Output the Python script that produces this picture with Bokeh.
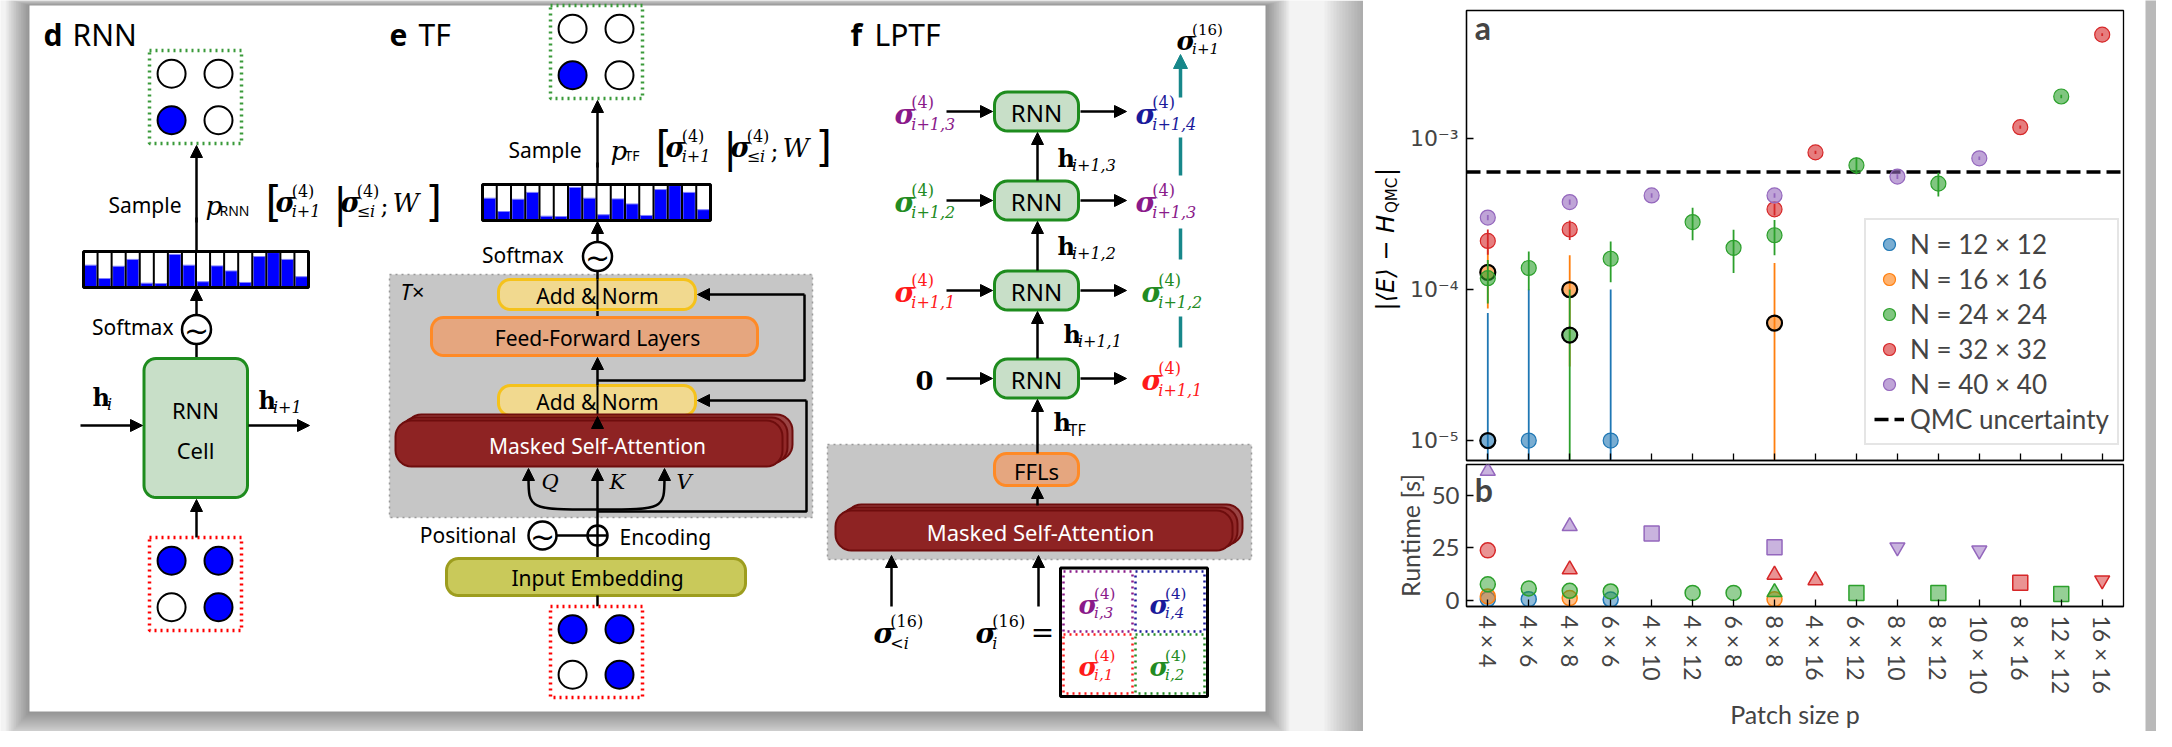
import math
from bokeh.plotting import figure
from bokeh.layouts import row, column
from bokeh.models import (Range1d, FixedTicker, Label, Legend, LegendItem,
                          Arrow, NormalHead, ColumnDataSource, CustomJSTickFormatter)
from bokeh.core.properties import value
from bokeh.embed import file_html
from bokeh.resources import INLINE

# ------------------------------------------------------------------ data
patch_sizes = ["4 × 4", "4 × 6", "4 × 8", "6 × 6", "4 × 10", "4 × 12", "6 × 8", "8 × 8",
               "4 × 16", "6 × 12", "8 × 10", "8 × 12", "10 × 10", "8 × 16", "12 × 12", "16 × 16"]
series_names = ["N = 12 × 12", "N = 16 × 16", "N = 24 × 24", "N = 32 × 32", "N = 40 × 40"]
series_colors = ["#1f77b4", "#ff7f0e", "#2ca02c", "#d62728", "#9467bd"]
qmc_uncertainty = 6.0e-4

# N = 12 x 12
n12_idx = [0, 1, 3]
n12_err = [1.0e-5, 1.0e-5, 1.0e-5]
n12_unc = [6.0e-5, 9.0e-5, 9.0e-5]
n12_neg = [True, False, False]
n12_run = [0.5, 0.5, 0.3]
n12_mrk = ["circle", "circle", "circle"]
# N = 16 x 16
n16_idx = [0, 2, 7]
n16_err = [1.3e-4, 1.0e-4, 6.0e-5]
n16_unc = [5.5e-5, 6.9e-5, 9.0e-5]
n16_neg = [True, True, True]
n16_run = [1.8, 1.0, 0.5]
n16_mrk = ["circle", "circle", "circle"]
# N = 24 x 24
n24_idx = [0, 1, 2, 3, 5, 6, 7, 9, 11, 14]
n24_err = [1.19e-4, 1.39e-4, 5.0e-5, 1.6e-4, 2.8e-4, 1.89e-4, 2.29e-4, 6.65e-4, 5.03e-4, 1.9e-3]
n24_unc = [3.8e-5, 4.0e-5, 5.0e-5, 4.8e-5, 6.8e-5, 6.0e-5, 6.0e-5, 8.5e-5, 9.0e-5, 5.0e-5]
n24_neg = [False, False, True, False, False, False, False, False, False, False]
n24_run = [7.6, 5.6, 4.5, 4.2, 3.5, 3.5, 3.8, 3.5, 3.5, 3.0]
n24_mrk = ["circle", "circle", "circle", "circle", "circle", "circle", "triangle", "square", "square", "square"]
# N = 32 x 32
n32_idx = [0, 2, 7, 8, 13, 15]
n32_err = [2.1e-4, 2.5e-4, 3.4e-4, 8.1e-4, 1.19e-3, 4.88e-3]
n32_unc = [4.0e-5, 3.7e-5, 3.0e-5, 2.0e-5, 3.0e-5, 1.0e-4]
n32_neg = [False, False, False, False, False, False]
n32_run = [23.8, 14.7, 12.1, 9.5, 8.3, 9.5]
n32_mrk = ["circle", "triangle", "triangle", "triangle", "square", "inverted_triangle"]
# N = 40 x 40
n40_idx = [0, 2, 4, 7, 10, 12]
n40_err = [3.0e-4, 3.8e-4, 4.2e-4, 4.2e-4, 5.6e-4, 7.4e-4]
n40_unc = [1.2e-5, 1.5e-5, 1.5e-5, 1.5e-5, 2.0e-5, 2.0e-5]
n40_neg = [False, False, False, False, False, False]
n40_run = [61.7, 35.3, 31.8, 25.3, 25.3, 23.8]
n40_mrk = ["triangle", "triangle", "square", "square", "inverted_triangle", "inverted_triangle"]

# illustrative output-distribution histogram in the schematic
hist_probs = [0.62, 0.25, 0.59, 0.78, 0.12, 0.11, 0.92, 0.62, 0.16, 0.60, 0.46, 0.14, 0.86, 0.97, 0.78, 0.30]

series = [
    (n12_idx, n12_err, n12_unc, n12_neg, n12_run, n12_mrk),
    (n16_idx, n16_err, n16_unc, n16_neg, n16_run, n16_mrk),
    (n24_idx, n24_err, n24_unc, n24_neg, n24_run, n24_mrk),
    (n32_idx, n32_err, n32_unc, n32_neg, n32_run, n32_mrk),
    (n40_idx, n40_err, n40_unc, n40_neg, n40_run, n40_mrk),
]

SANS = "Noto Sans"
SERIF = "DejaVu Serif"
CH = "Lato"

# ------------------------------------------------------------------ schematic
d = figure(width=1363, height=731, x_range=Range1d(8, 1371), y_range=Range1d(739, 8),
           output_backend="svg", toolbar_location=None, min_border=0,
           x_axis_location=None, y_axis_location=None, outline_line_color=None,
           background_fill_color="#f3f3f3", border_fill_color="#f3f3f3")
d.grid.visible = False


def T(p, x, y, s, size, color="black", align="center", font=SANS, style="normal", baseline="middle", angle=0.0):
    p.text(x=[x], y=[y], text=[s], text_font=value(font), text_font_size=f"{size}px",
           text_color=color, text_align=align, text_baseline=baseline, text_font_style=style,
           angle=angle)


def arrow(p, x0, y0, x1, y1, color="black", lw=2.5, head=12):
    p.add_layout(Arrow(end=NormalHead(size=head, fill_color=color, line_color=color),
                       x_start=x0, y_start=y0, x_end=x1, y_end=y1,
                       line_color=color, line_width=lw))


def rrect(p, l, r, t, b, rad, fill, line, lw=2.5, fill_alpha=1.0, line_alpha=1.0):
    xs, ys = [], []
    corners = [(r - rad, t + rad, -90, 0), (r - rad, b - rad, 0, 90),
               (l + rad, b - rad, 90, 180), (l + rad, t + rad, 180, 270)]
    for cx, cy, a0, a1 in corners:
        for k in range(9):
            a = math.radians(a0 + (a1 - a0) * k / 8)
            xs.append(cx + rad * math.cos(a))
            ys.append(cy + rad * math.sin(a))
    p.patch(xs, ys, fill_color=fill, fill_alpha=fill_alpha, line_color=line,
            line_width=lw, line_alpha=line_alpha)


def sig(p, x, y, sup, sub, color="black", fs=28):
    T(p, x, y, "σ", fs, color, align="left", font=SERIF, style="bold italic")
    T(p, x + 0.6 * fs, y - 0.42 * fs, sup, int(fs * 0.6), color, align="left", font=SERIF)
    T(p, x + 0.6 * fs, y + 0.34 * fs, sub, int(fs * 0.6), color, align="left", font=SERIF, style="italic")


def hvec(p, x, y, sub, fs=24):
    T(p, x, y, "h", fs, align="left", font=SERIF, style="bold")
    T(p, x + 0.6 * fs, y + 0.3 * fs, sub, int(fs * 0.68), align="left", font=SERIF, style="italic")


def hist(p, l, r, t, b):
    n = len(hist_probs)
    w = (r - l) / n
    lefts = [l + i * w for i in range(n)]
    p.quad(left=l, right=r, top=t, bottom=b, fill_color="white", line_color=None)
    p.quad(left=[x + 1 for x in lefts], right=[x + w - 1 for x in lefts],
           top=[b - f * (b - t) for f in hist_probs], bottom=b,
           fill_color="#0000ff", line_color="#8080ff", line_width=1)
    p.segment(x0=lefts[1:], y0=t, x1=lefts[1:], y1=b, line_color="black", line_width=2)
    p.quad(left=l, right=r, top=t, bottom=b, fill_color=None, line_color="black", line_width=3)


def grid4(p, l, r, t, b, filled, color):
    p.quad(left=l, right=r, top=t, bottom=b, fill_color="white", line_color=color,
           line_width=3.5, line_dash="dotted")
    xs = [l + 0.24 * (r - l), l + 0.75 * (r - l)]
    ys = [t + 0.25 * (b - t), t + 0.75 * (b - t)]
    cx, cy, fc = [], [], []
    for j, yy in enumerate(ys):
        for i, xx in enumerate(xs):
            cx.append(xx); cy.append(yy)
            fc.append("#0000ff" if filled[j][i] else "white")
    p.circle(x=cx, y=cy, radius=14, fill_color=fc, line_color="black", line_width=2)


def wave(p, x, y, r=14.5):
    p.circle(x=[x], y=[y], radius=r, fill_color="white", line_color="black", line_width=2.5)
    T(p, x, y + 1, "~", 30, font="DejaVu Sans")


def formula(p, x, y, sub, bx):
    T(p, x, y + 3, "p", 26, align="left", font=SERIF, style="italic")
    T(p, x + 14, y + 8, sub, 14, align="left", font=SANS)
    T(p, bx, y, "[", 42, align="left", font="DejaVu Sans")
    sig(p, bx + 10, y, "(4)", "i+1", fs=27)
    T(p, bx + 68, y, "|", 40, align="left", font="DejaVu Sans")
    sig(p, bx + 75, y, "(4)", "≤i", fs=27)
    T(p, bx + 115, y + 3, ";", 24, align="left", font=SERIF)
    T(p, bx + 127, y, "W", 26, align="left", font=SERIF, style="italic")
    T(p, bx + 160, y, "]", 42, align="left", font="DejaVu Sans")


# shadows and panel background
for k in range(1, 15):
    d.quad(left=37 - 1.7 * k, right=1273 + 1.7 * k, top=13 - 0.5 * k, bottom=719 + 2.0 * k,
           fill_color="black", fill_alpha=0.03, line_color=None)
for k in range(1, 14):
    d.quad(left=1371 - 3 * k, right=1371, top=8, bottom=739, fill_color="black",
           fill_alpha=0.025, line_color=None)
d.quad(left=37, right=1273, top=13, bottom=719, fill_color="white", line_color=None)

# ---- d RNN
T(d, 51, 42, "d", 30, align="left", style="bold")
T(d, 80, 42, "RNN", 30, align="left")
d.segment(x0=[204], y0=[258], x1=[204], y1=[225], line_color="black", line_width=2.5)
arrow(d, 204, 230, 204, 153)
grid4(d, 157, 249, 58, 151, [[False, False], [True, False]], "#3a9a3a")
T(d, 189, 212, "Sample", 21, align="right")
formula(d, 213, 210, "RNN", 273)
hist(d, 91, 316, 259, 295)
arrow(d, 204, 322, 204, 296)
wave(d, 204, 337)
T(d, 181, 334, "Softmax", 21, align="right")
d.segment(x0=[204], y0=[366], x1=[204], y1=[351], line_color="black", line_width=2.5)
rrect(d, 151.5, 255, 366, 505, 12, "#c8dfc8", "#1e8c1e", lw=3)
T(d, 203, 417, "RNN", 22)
T(d, 203, 457, "Cell", 22)
arrow(d, 88, 433, 150, 433)
arrow(d, 256, 433, 317, 433)
hvec(d, 100, 405, "i")
hvec(d, 266, 408, "i+1")
arrow(d, 204, 545, 204, 507)
grid4(d, 157, 249, 545, 638, [[True, True], [False, True]], "#ff0000")

# ---- e TF
T(d, 397, 42, "e", 30, align="left", style="bold")
T(d, 426, 42, "TF", 30, align="left")
d.quad(left=397, right=820, top=282, bottom=525, fill_color="#c6c6c6", line_color="#9a9a9a",
       line_width=1.5, line_dash="dotted")
T(d, 408, 298, "T×", 22, align="left", style="italic")
d.line([605, 814, 814], [519, 519, 408], line_color="black", line_width=2.5)
arrow(d, 814, 408, 705, 408)
d.line([605, 812, 812], [388, 388, 302], line_color="black", line_width=2.5)
arrow(d, 812, 302, 705, 302)
arrow(d, 605, 393, 605, 365)
d.segment(x0=[605], y0=[325], x1=[605], y1=[317], line_color="black", line_width=2.5)
rrect(d, 506, 703, 287, 317, 12, "#f1d98f", "#f5c21b", lw=3)
T(d, 605, 303, "Add & Norm", 21)
rrect(d, 439, 765, 325, 363, 12, "#e5a67f", "#ff8a26", lw=3)
T(d, 605, 345, "Feed-Forward Layers", 21)
rrect(d, 506, 703, 393, 423, 12, "#f1d98f", "#f5c21b", lw=3)
T(d, 605, 409, "Add & Norm", 21)
d.segment(x0=[605, 605], y0=[287, 393], x1=[605, 605], y1=[317, 423], line_color="black", line_width=2)
arrow(d, 605, 430, 605, 424)
for k in (2, 1, 0):
    rrect(d, 403 + 5 * k, 790 + 5 * k, 428 - 3 * k, 474 - 3 * k, 16, "#8e2323", "#6e0d0d",
          lw=2, fill_alpha=0.8 if k else 1.0)
T(d, 605, 453, "Masked Self-Attention", 21, color="white")
d.bezier(x0=[605, 605], y0=[517, 517], x1=[536, 672], y1=[484, 484],
         cx0=[536, 672], cy0=[517, 517], cx1=[536, 672], cy1=[517, 517],
         line_color="black", line_width=2.5)
arrow(d, 536, 486, 536, 476)
arrow(d, 672, 486, 672, 476)
arrow(d, 605, 533, 605, 476)
T(d, 549, 489, "Q", 21, align="left", font=SERIF, style="italic")
T(d, 617, 489, "K", 21, align="left", font=SERIF, style="italic")
T(d, 684, 489, "V", 21, align="left", font=SERIF, style="italic")
d.segment(x0=[564], y0=[543], x1=[595], y1=[543], line_color="black", line_width=2.5)
wave(d, 550, 543, 14)
d.circle(x=[605], y=[543], radius=10, fill_color="white", line_color="black", line_width=2.5)
d.segment(x0=[595, 605], y0=[543, 533], x1=[615, 605], y1=[543, 553], line_color="black", line_width=2.5)
T(d, 524, 542, "Positional", 21, align="right")
T(d, 627, 544, "Encoding", 21, align="left")
d.segment(x0=[605], y0=[566], x1=[605], y1=[553], line_color="black", line_width=2.5)
rrect(d, 454, 753, 566, 603, 12, "#c9c95a", "#9d9d1e", lw=3)
T(d, 605, 585, "Input Embedding", 21)
d.segment(x0=[605], y0=[614], x1=[605], y1=[603], line_color="black", line_width=2.5)
grid4(d, 558, 650, 614, 705, [[True, True], [False, True]], "#ff0000")
d.segment(x0=[605], y0=[279], x1=[605], y1=[287], line_color="black", line_width=2.5)
wave(d, 605, 264)
T(d, 571, 262, "Softmax", 21, align="right")
arrow(d, 605, 250, 605, 229)
hist(d, 490, 718, 192, 228)
d.segment(x0=[605], y0=[192], x1=[605], y1=[170], line_color="black", line_width=2.5)
arrow(d, 605, 175, 605, 108)
grid4(d, 558, 650, 13, 106, [[False, False], [True, False]], "#3a9a3a")
T(d, 589, 157, "Sample", 21, align="right")
formula(d, 618, 155, "TF", 663)

# ---- f LPTF
T(d, 858, 42, "f", 30, align="left", style="bold")
T(d, 882, 42, "LPTF", 30, align="left")
d.quad(left=835, right=1259, top=452, bottom=567, fill_color="#c6c6c6", line_color="#9a9a9a",
       line_width=1.5, line_dash="dotted")
for k in (2, 1, 0):
    rrect(d, 843 + 5 * k, 1240 + 5 * k, 518 - 3 * k, 558 - 3 * k, 16, "#8e2323", "#6e0d0d",
          lw=2, fill_alpha=0.8 if k else 1.0)
T(d, 1048, 539, "Masked Self-Attention", 22, color="white")
arrow(d, 1045, 513, 1045, 494)
rrect(d, 1002, 1086, 461, 493, 12, "#e5a67f", "#ff8a26", lw=3)
T(d, 1044, 478, "FFLs", 22)
rnn_y = [119, 208, 298, 386]
arrow(d, 1045, 461, 1045, 407)
for ya, yb in zip(rnn_y[1:], rnn_y[:-1]):
    arrow(d, 1045, ya - 20, 1045, yb + 21)
for yc in rnn_y:
    rrect(d, 1002, 1086, yc - 19.5, yc + 19.5, 13, "#c8dfc8", "#1e8c1e", lw=3)
    T(d, 1044, yc + 1, "RNN", 24)
    arrow(d, 954, yc, 1000, yc)
    arrow(d, 1088, yc, 1134, yc)
hvec(d, 1065, 166, "i+1,3")
hvec(d, 1065, 254, "i+1,2")
hvec(d, 1071, 342, "i+1,1")
T(d, 1061, 430, "h", 24, align="left", font=SERIF, style="bold")
T(d, 1076, 437, "TF", 16, align="left", font=SANS)
PUR, NAV, GRN, RED, TEAL = "#8a1a8a", "#1a1a9a", "#228b22", "#ff1a1a", "#17878a"
sig(d, 902, 122, "(4)", "i+1,3", PUR)
sig(d, 902, 210, "(4)", "i+1,2", GRN)
sig(d, 902, 300, "(4)", "i+1,1", RED)
T(d, 932, 388, "0", 26, font=SERIF, style="bold")
sig(d, 1143, 122, "(4)", "i+1,4", NAV)
sig(d, 1143, 210, "(4)", "i+1,3", PUR)
sig(d, 1149, 300, "(4)", "i+1,2", GRN)
sig(d, 1149, 388, "(4)", "i+1,1", RED)
d.segment(x0=[1188, 1188, 1188], y0=[145, 236, 324], x1=[1188, 1188, 1188], y1=[183, 267, 355],
          line_color=TEAL, line_width=3.5)
arrow(d, 1188, 105, 1188, 62, color=TEAL, lw=3.5, head=14)
sig(d, 1184, 48, "(16)", "i+1", fs=26)
arrow(d, 899, 614, 899, 563)
arrow(d, 1046, 614, 1046, 563)
sig(d, 881, 641, "(16)", "<i", fs=28)
sig(d, 983, 641, "(16)", "i", fs=28)
T(d, 1050, 640, "=", 28, font=SERIF)
d.quad(left=1068, right=1215, top=575.5, bottom=704, fill_color="white", line_color="black", line_width=3)
for (l, r, t, b, c) in [(1071, 1140, 579, 639, PUR), (1143, 1212, 579, 639, NAV),
                        (1071, 1140, 642, 701, RED), (1143, 1212, 642, 701, GRN)]:
    d.quad(left=l, right=r, top=t, bottom=b, fill_color=None, line_color=c, line_width=2.5,
           line_dash="dotted")
sig(d, 1086, 612, "(4)", "i,3", PUR, fs=26)
sig(d, 1157, 612, "(4)", "i,4", NAV, fs=26)
sig(d, 1086, 674, "(4)", "i,1", RED, fs=26)
sig(d, 1157, 674, "(4)", "i,2", GRN, fs=26)

# ------------------------------------------------------------------ y-label strip for panel a
LABW = 40
lab = figure(width=LABW, height=462, x_range=Range1d(0, LABW), y_range=Range1d(0, 462),
             output_backend="svg", toolbar_location=None, min_border=0,
             x_axis_location=None, y_axis_location=None, outline_line_color=None,
             background_fill_color="white", border_fill_color="white")
lab.grid.visible = False


def ly(yref):
    return 462 - (yref - 8)


T(lab, 22, ly(218), "|⟨E⟩ − H", 24, align="right", font="DejaVu Sans", style="italic", angle=math.pi / 2)
T(lab, 28, ly(216), "QMC", 15, align="left", font="DejaVu Sans", angle=math.pi / 2)
T(lab, 22, ly(178), "|", 24, align="left", font="DejaVu Sans", angle=math.pi / 2)

# ------------------------------------------------------------------ chart a
xr = Range1d(-0.52, 15.52)
pa = figure(width=782 - LABW, height=462, y_axis_type="log", x_range=xr,
            y_range=Range1d(7.38e-6, 7.05e-3), output_backend="svg", toolbar_location=None,
            min_border_left=103 - LABW, min_border_right=22, min_border_top=10, min_border_bottom=2,
            background_fill_color="white", border_fill_color="white")
pb = figure(width=782, height=269, x_range=xr, y_range=Range1d(-3, 64.8),
            output_backend="svg", toolbar_location=None,
            min_border_left=103, min_border_right=22, min_border_top=2, min_border_bottom=117,
            background_fill_color="white", border_fill_color="white")
for p in (pa, pb):
    p.grid.visible = False
    p.outline_line_color = "black"
    p.outline_line_width = 1.3
    for ax in (p.xaxis[0], p.yaxis[0]):
        ax.axis_line_color = "black"
        ax.axis_line_width = 1.3
        ax.major_tick_in = 7
        ax.major_tick_out = 0
        ax.minor_tick_line_color = None
        ax.major_tick_line_color = "black"
        ax.major_tick_line_width = 1.3
    p.xaxis.ticker = FixedTicker(ticks=list(range(len(patch_sizes))))

pa.xaxis.major_label_overrides = {i: "" for i in range(len(patch_sizes))}
pa.xaxis.major_label_text_font_size = "0px"
pa.xaxis.major_label_standoff = 0
pa.yaxis.ticker = FixedTicker(ticks=[1e-5, 1e-4, 1e-3])
pa.yaxis.formatter = CustomJSTickFormatter(code="""
const e = Math.round(Math.log10(tick));
const sup = {"-": "\u207b", "0": "\u2070", "1": "\u00b9", "2": "\u00b2", "3": "\u00b3",
             "4": "\u2074", "5": "\u2075", "6": "\u2076", "7": "\u2077", "8": "\u2078", "9": "\u2079"};
return "10" + String(e).split("").map(c => sup[c]).join("");
""")
pa.yaxis.major_label_text_font = "DejaVu Sans"
pa.yaxis.major_label_text_font_size = "22px"
pa.yaxis.major_label_standoff = 8

# QMC uncertainty line spans the full x range of the axis
qline = pa.line(x=[xr.start, xr.end], y=[qmc_uncertainty, qmc_uncertainty], line_color="black",
                line_width=3.5, line_dash="14 6")

legend_items = []
for (idx, err, unc, neg, run, mrk), name, color in zip(series, series_names, series_colors):
    lo = [max(v - u, 1e-7) for v, u in zip(err, unc)]
    hi = [v + u for v, u in zip(err, unc)]
    pa.segment(x0=idx, y0=lo, x1=idx, y1=hi, line_color=color, line_width=1.8)
    base = pa.scatter(x=idx, y=err, size=15, fill_color=color, fill_alpha=0.6,
                      line_color=color, line_width=1.2)
    nx = [i for i, n in zip(idx, neg) if n]
    ny = [v for v, n in zip(err, neg) if n]
    if nx:
        pa.scatter(x=nx, y=ny, size=15, fill_color=None, line_color="black", line_width=2.2)
    legend_items.append(LegendItem(label=name, renderers=[base]))
    srcb = ColumnDataSource(dict(x=idx, y=run, m=mrk))
    pb.scatter("x", "y", source=srcb, marker="m", size=15, fill_color=color, fill_alpha=0.5,
               line_color=color, line_width=1.5)

legend_items.append(LegendItem(label="QMC uncertainty", renderers=[qline]))
leg = Legend(items=legend_items, location=(398, 15), label_text_font=CH,
             label_text_font_size="26px", glyph_width=30, glyph_height=30, label_height=30,
             spacing=3, padding=8, margin=0, border_line_color="#cccccc", border_line_width=2,
             background_fill_alpha=0.85, label_standoff=6)
pa.add_layout(leg)

pa.add_layout(Label(x=-0.32, y=5.4e-3, text="a", text_font=CH, text_font_style="bold",
                    text_font_size="32px", text_baseline="middle", text_align="left"))

# ------------------------------------------------------------------ chart b
pb.yaxis.ticker = FixedTicker(ticks=[0, 25, 50])
pb.yaxis.major_label_text_font = CH
pb.yaxis.major_label_text_font_size = "24px"
pb.yaxis.major_label_standoff = 7
pb.yaxis.axis_label = "Runtime [s]"
pb.yaxis.axis_label_text_font = CH
pb.yaxis.axis_label_text_font_style = "normal"
pb.yaxis.axis_label_text_font_size = "25px"
pb.yaxis.axis_label_standoff = 4
pb.xaxis.major_label_overrides = {i: s for i, s in enumerate(patch_sizes)}
pb.xaxis.major_label_orientation = "vertical"
pb.xaxis.major_label_text_font = CH
pb.xaxis.major_label_text_font_size = "23px"
pb.xaxis.major_label_standoff = 9
pb.xaxis.axis_label = "Patch size p"
pb.xaxis.axis_label_text_font = CH
pb.xaxis.axis_label_text_font_style = "normal"
pb.xaxis.axis_label_text_font_size = "25px"
pb.xaxis.axis_label_standoff = 2
pb.add_layout(Label(x=-0.32, y=53, text="b", text_font=CH, text_font_style="bold",
                    text_font_size="32px", text_baseline="middle", text_align="left"))

strip = figure(width=11, height=731, output_backend="svg", toolbar_location=None, min_border=0,
               x_axis_location=None, y_axis_location=None, outline_line_color=None,
               background_fill_color="#b9b9b9", border_fill_color="#b9b9b9")
strip.grid.visible = False

layout = row(d, column(row(lab, pa), pb), strip)
open("out.html", "w").write(file_html(layout, INLINE))
